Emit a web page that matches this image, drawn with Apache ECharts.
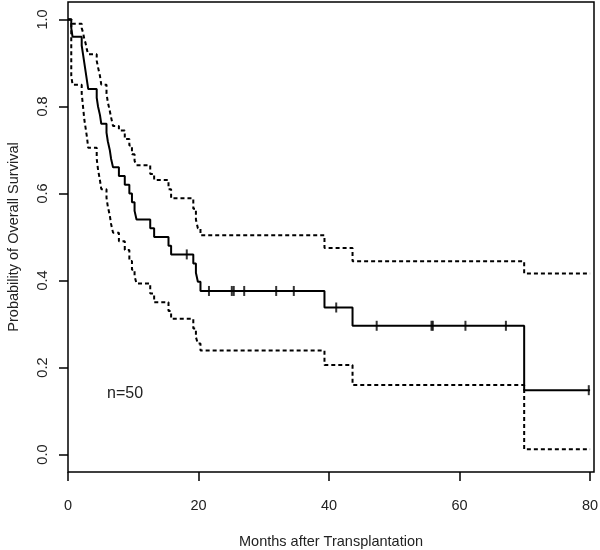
<!DOCTYPE html>
<html>
<head>
<meta charset="utf-8">
<script src="https://cdn.jsdelivr.net/npm/echarts@6/dist/echarts.min.js"></script>
<style>
  html, body { margin: 0; padding: 0; background: #fff; }
  #chart { width: 600px; height: 550px; }
</style>
</head>
<body>
<div id="chart"></div>
<script>
/* Kaplan-Meier: overall survival after transplantation */
var kmTime = [0, 0.5, 0.7, 2.1, 2.3, 2.5, 2.7, 2.9, 3.1, 4.4, 4.6, 4.9, 5.1, 5.9, 6.1, 6.4, 6.6, 6.9,
    7.8, 8.7, 9.4, 9.8, 10.2, 10.5, 12.6, 13.2, 15.4, 15.8, 19.2, 19.6, 19.9, 20.3, 39.3, 43.6, 69.9];
var kmSurv = [1.00, 0.98, 0.96, 0.94, 0.92, 0.90, 0.88, 0.86, 0.84, 0.82, 0.80, 0.78, 0.76, 0.74, 0.72, 0.70, 0.68, 0.66,
    0.64, 0.62, 0.60, 0.58, 0.56, 0.54, 0.52, 0.50, 0.48, 0.46, 0.439, 0.418, 0.397, 0.376, 0.338, 0.296, 0.148];
var upperCI = [1.00, 1.00, 0.99, 0.98, 0.97, 0.955, 0.945, 0.93, 0.92, 0.905, 0.89, 0.87, 0.85, 0.83, 0.81, 0.79, 0.775, 0.755,
    0.745, 0.725, 0.71, 0.69, 0.675, 0.665, 0.645, 0.631, 0.61, 0.589, 0.565, 0.54, 0.52, 0.504, 0.475, 0.444, 0.416];
var lowerCI = [1.00, 0.87, 0.85, 0.83, 0.80, 0.77, 0.75, 0.73, 0.705, 0.68, 0.655, 0.63, 0.61, 0.59, 0.57, 0.55, 0.53, 0.51,
    0.49, 0.47, 0.445, 0.425, 0.41, 0.393, 0.37, 0.35, 0.33, 0.312, 0.29, 0.27, 0.255, 0.239, 0.206, 0.16, 0.012];
var censorTime = [18.2, 21.6, 25.1, 25.4, 27.0, 31.9, 34.6, 41.1, 47.3, 55.7, 55.9, 60.9, 67.1, 79.8];
var lastTime = 80;
var xTicks = [0, 20, 40, 60, 80];
var yTicks = [0, 0.2, 0.4, 0.6, 0.8, 1.0];

function stepData(vals) {
    var d = kmTime.map(function (t, i) { return [t, vals[i]]; });
    d.push([lastTime, vals[vals.length - 1]]);
    return d;
}

function survAt(t) {
    var s = kmSurv[0];
    for (var i = 0; i < kmTime.length; i++) {
        if (kmTime[i] <= t) s = kmSurv[i];
    }
    return s;
}

var censorData = censorTime.map(function (t) { return [t, survAt(t)]; });

var textColor = '#222';
var font = 'Liberation Sans, Arial';
var myChart = echarts.init(document.getElementById('chart'));
var option = {
    animation: false,
    backgroundColor: '#fff',
    grid: {
        left: 68, right: 6, top: 2, bottom: 78,
        containLabel: false, outerBoundsMode: 'none',
        show: true, borderColor: '#000', borderWidth: 1.5
    },
    xAxis: {
        type: 'value', min: 0, max: 80.6,
        splitLine: { show: false },
        axisLine: { show: false, onZero: false },
        axisTick: { show: true, length: 9, lineStyle: { color: '#000', width: 1.5 }, customValues: xTicks },
        axisLabel: { color: textColor, fontSize: 14.5, fontFamily: font, margin: 26, customValues: xTicks },
        name: 'Months after Transplantation',
        nameLocation: 'middle', nameGap: 62,
        nameTextStyle: { color: textColor, fontSize: 14.5, fontFamily: font }
    },
    yAxis: {
        type: 'value', min: -0.04, max: 1.04,
        splitLine: { show: false },
        axisLine: { show: false, onZero: false },
        axisTick: { show: true, length: 9, lineStyle: { color: '#000', width: 1.5 }, customValues: yTicks },
        axisLabel: {
            color: textColor, fontSize: 14.5, fontFamily: font, margin: 18, rotate: 90,
            customValues: yTicks,
            formatter: function (v) { return v.toFixed(1); }
        },
        name: 'Probability of Overall Survival',
        nameLocation: 'middle', nameGap: 47,
        nameTextStyle: { color: textColor, fontSize: 14.5, fontFamily: font }
    },
    graphic: [{
        type: 'text', left: 107, top: 386,
        style: { text: 'n=50', fill: textColor, fontSize: 16, fontFamily: font }
    }],
    series: [{
        name: 'upper', type: 'line', step: 'end', showSymbol: false,
        data: stepData(upperCI),
        lineStyle: { color: '#000', width: 2, type: [4, 3] }
    }, {
        name: 'lower', type: 'line', step: 'end', showSymbol: false,
        data: stepData(lowerCI),
        lineStyle: { color: '#000', width: 2, type: [4, 3] }
    }, {
        name: 'survival', type: 'line', step: 'end', showSymbol: false,
        data: stepData(kmSurv),
        lineStyle: { color: '#000', width: 2 }
    }, {
        name: 'censored', type: 'scatter',
        data: censorData,
        symbol: 'rect', symbolSize: [2, 10],
        itemStyle: { color: '#000' }
    }]
};
myChart.setOption(option);
</script>
</body>
</html>
